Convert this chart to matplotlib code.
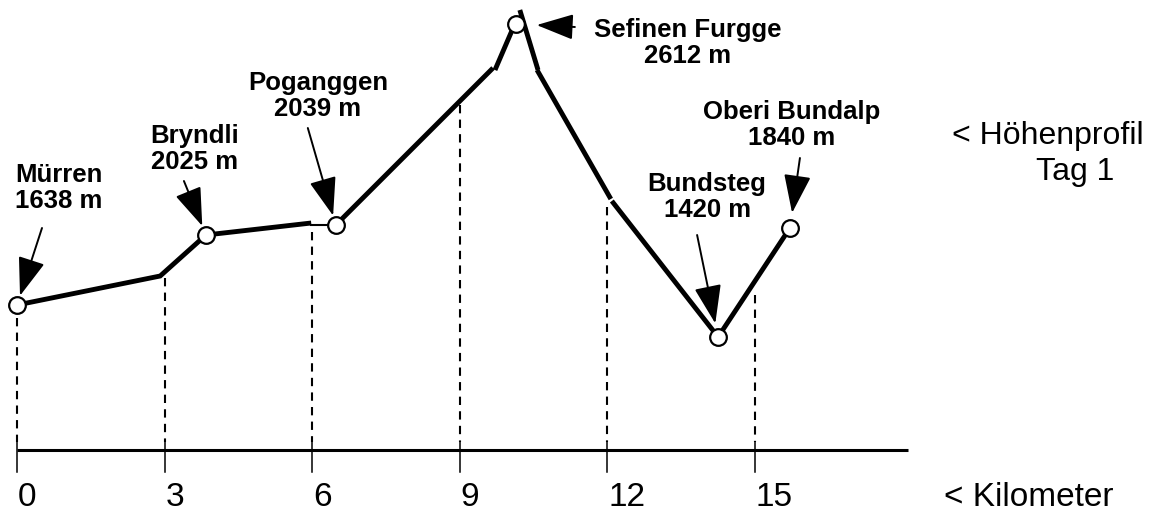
import matplotlib
matplotlib.use("Agg")
import matplotlib.pyplot as plt

plt.rcParams['font.family'] = ['Liberation Sans', 'DejaVu Sans']

# Hoehenprofil Tag 1: Muerren - Sefinen Furgge - Oberi Bundalp
# x in km, y = Zeichenhoehe (Skizze nicht massstaeblich)
km_ticks = [0, 3, 6, 9, 12, 15]
tick_labels = ["0", "3", "6", "9", "12", "15"]

# Profil als einzelne Striche (wie von Hand gezeichnet)
seg_a_km = [0, 2.91, 3.84, 5.98]
seg_a_h = [215, 244, 285, 297]
seg_thin_km = [5.98, 6.48]
seg_thin_h = [295, 295]
seg_b_km = [6.48, 9.675]
seg_b_h = [295, 452]
seg_c_km = [9.715, 10.10]
seg_c_h = [450, 494]
seg_d_km = [10.22, 10.59]
seg_d_h = [510, 450]
seg_e_km = [10.57, 12.07]
seg_e_h = [450, 321]
seg_f_km = [12.09, 14.25, 15.71]
seg_f_h = [319, 183, 292]

# Orte
stop_names = ["Mürren", "Bryndli", "Poganggen", "Sefinen Furgge", "Bundsteg", "Oberi Bundalp"]
stop_alt = [1638, 2025, 2039, 2612, 1420, 1840]
stop_km = [0, 3.84, 6.48, 10.14, 14.25, 15.71]
stop_h = [215, 285, 295, 496, 183, 292]

# obere Enden der gestrichelten Linien
drop_h = [202, 242, 288, 415, 313, 225]

fig = plt.figure(figsize=(11.57, 5.2), dpi=100)
ax = fig.add_axes([0, 0, 1, 1])
ax.set_xlim(-17 / 49.2, 1140 / 49.2)
ax.set_ylim(0, 520)
ax.axis("off")

base_h = 70
for k, top in zip(km_ticks, drop_h):
    ax.plot([k, k], [top, base_h + 8], color="black", lw=1.5,
            linestyle=(0, (4, 3)), zorder=1)
    ax.plot([k, k], [base_h - 22, base_h + 8], color="black", lw=1.1, zorder=2)
ax.plot([0, 18.1], [base_h, base_h], color="black", lw=2.2,
        solid_capstyle="butt", zorder=2)

for k, lab in zip(km_ticks, tick_labels):
    ax.annotate(lab, (k, 22), xytext=(1, 0), textcoords="offset pixels",
                ha="left", va="center", fontsize=24)
ax.text(18.85, 22, "< Kilometer", ha="left", va="center", fontsize=24)
ax.text(19.0, 384, "< Höhenprofil", ha="left", va="center", fontsize=23)
ax.text(21.5, 348, "Tag 1", ha="center", va="center", fontsize=23)

thick = dict(color="black", lw=3.5, solid_capstyle="butt", zorder=3)
for xs, ys in [(seg_a_km, seg_a_h), (seg_b_km, seg_b_h), (seg_c_km, seg_c_h),
               (seg_d_km, seg_d_h), (seg_e_km, seg_e_h), (seg_f_km, seg_f_h)]:
    ax.plot(xs, ys, solid_joinstyle="miter", **thick)
ax.plot(seg_thin_km, seg_thin_h, color="black", lw=1.5, zorder=3)

ax.plot(stop_km, stop_h, linestyle="none", marker="o", markersize=12,
        markerfacecolor="white", markeredgecolor="black",
        markeredgewidth=1.6, zorder=4)

# Beschriftung: Textmitte und Pfeilende relativ zum Punkt (Pixel)
text_off = [(42, 117), (-11, 86), (-18, 129), (172, -19), (-11, 140), (2, 103)]
arrow_off = [(25, 77), (-22, 54), (-28, 97), (59, -3), (-21, 102), (10, 70)]
arrow_shrink = [7, 7, 7, 15, 10, 11]

for i in range(len(stop_names)):
    label = f"{stop_names[i]}\n{stop_alt[i]} m"
    ax.annotate(label, (stop_km[i], stop_h[i]), xytext=text_off[i],
                textcoords="offset pixels", ha="center", va="center",
                fontsize=18.5, fontweight="bold", linespacing=1.15)
    hl, hw = (23, 8) if i == 3 else (24, 8.5)
    ax.annotate("", (stop_km[i], stop_h[i]), xytext=arrow_off[i],
                textcoords="offset pixels",
                arrowprops=dict(arrowstyle=f"-|>,head_length={hl},head_width={hw}",
                                mutation_scale=1, color="black", lw=1.4,
                                shrinkA=0, shrinkB=arrow_shrink[i]),
                zorder=5)

fig.savefig("out.png", dpi=100, facecolor="white")
